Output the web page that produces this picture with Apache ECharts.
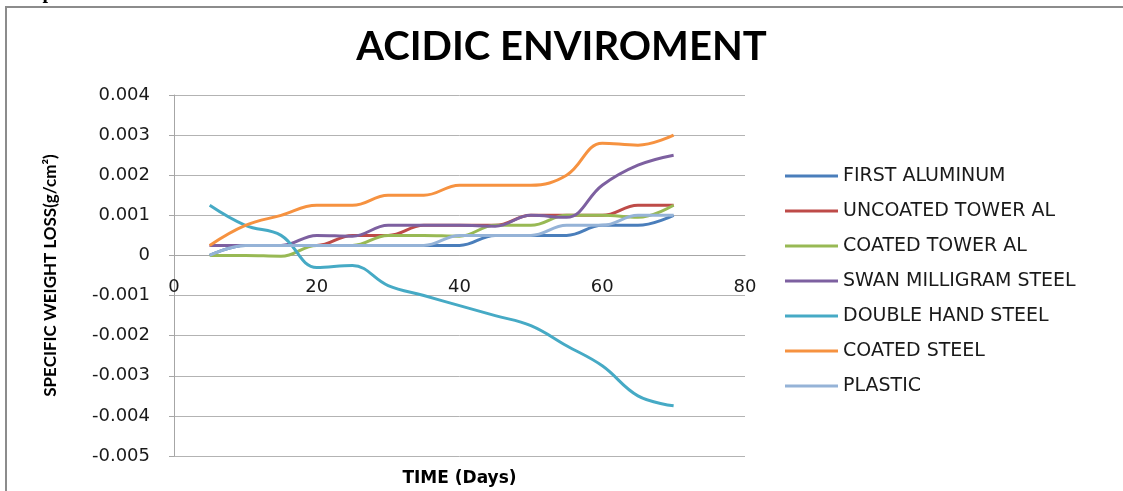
<!DOCTYPE html>
<html>
<head>
<meta charset="utf-8">
<script src="https://cdn.jsdelivr.net/npm/echarts@6/dist/echarts.min.js"></script>
<style>
html,body{margin:0;padding:0;background:#fff;}
#chart{width:1123px;height:491px;}
</style>
</head>
<body>
<div id="chart"></div>
<script>
const days = [5, 10, 15, 20, 25, 30, 35, 40, 45, 50, 55, 60, 65, 70];
const seriesNames = ['FIRST ALUMINUM', 'UNCOATED TOWER AL', 'COATED TOWER AL', 'SWAN MILLIGRAM STEEL', 'DOUBLE HAND STEEL', 'COATED STEEL', 'PLASTIC'];
const firstAluminum = [0, 0.00025, 0.00025, 0.00025, 0.00025, 0.00025, 0.00025, 0.00025, 0.0005, 0.0005, 0.0005, 0.00075, 0.00075, 0.001];
const uncoatedTowerAl = [0.00025, 0.00025, 0.00025, 0.00025, 0.0005, 0.0005, 0.00075, 0.00075, 0.00075, 0.001, 0.001, 0.001, 0.00125, 0.00125];
const coatedTowerAl = [0, 0, -0.00002, 0.00025, 0.00025, 0.0005, 0.0005, 0.00048, 0.00075, 0.00075, 0.001, 0.001, 0.00095, 0.00125];
const swanMilligramSteel = [0.00025, 0.00025, 0.00025, 0.0005, 0.00048, 0.00075, 0.00075, 0.00075, 0.00073, 0.001, 0.00095, 0.00175, 0.00225, 0.0025];
const doubleHandSteel = [0.00125, 0.00075, 0.0005, -0.0003, -0.00025, -0.00075, -0.001, -0.00125, -0.0015, -0.00175, -0.00225, -0.00275, -0.0035, -0.00375];
const coatedSteel = [0.00025, 0.00075, 0.001, 0.00125, 0.00125, 0.0015, 0.0015, 0.00175, 0.00175, 0.00175, 0.002, 0.0028, 0.00275, 0.003];
const plastic = [0, 0.00025, 0.00025, 0.00025, 0.00025, 0.00025, 0.00025, 0.0005, 0.0005, 0.0005, 0.00075, 0.00075, 0.001, 0.001];
const xTicks = {min: 0, max: 80, interval: 20};
const yTicks = {min: -0.005, max: 0.004, interval: 0.001};

const allValues = [firstAluminum, uncoatedTowerAl, coatedTowerAl, swanMilligramSteel, doubleHandSteel, coatedSteel, plastic];
const colors = ['#4A7EBB', '#BE4B48', '#98B954', '#7D60A0', '#46AAC5', '#F69240', '#95B3D7'];
const boldFont = 'Lato, "Open Sans", sans-serif';
const labelFont = '"DejaVu Sans", sans-serif';

const W = 1123, H = 491;
const gridBox = {left: 174, right: 378, top: 95, bottom: 35};
const plotH = H - gridBox.top - gridBox.bottom;
// move the x axis up from the bottom edge to the y = 0 line
const zeroOffset = -((0 - yTicks.min) / (yTicks.max - yTicks.min)) * plotH;

const chart = echarts.init(document.getElementById('chart'));
chart.setOption({
  animation: false,
  backgroundColor: '#fff',
  color: colors,
  title: {
    text: 'ACIDIC ENVIROMENT',
    left: 'center',
    top: 22,
    textStyle: {fontFamily: boldFont, fontWeight: 'bold', fontSize: 40, color: '#000'}
  },
  graphic: [
    {type: 'rect', shape: {x: 6, y: 7, width: 1140, height: 520}, style: {fill: 'none', stroke: '#8c8c8c', lineWidth: 2}, silent: true},
    {type: 'text', left: 8, top: -17, style: {text: 'Graphs', font: 'bold 20px "Liberation Serif", serif', fill: '#000'}, silent: true}
  ],
  legend: {
    orient: 'vertical',
    left: 780,
    top: 161,
    itemWidth: 53,
    itemHeight: 3,
    itemGap: 15,
    icon: 'rect',
    textStyle: {fontFamily: labelFont, fontSize: 19, color: '#1a1a1a', lineHeight: 20},
    data: seriesNames
  },
  grid: Object.assign({containLabel: false, outerBoundsMode: 'none'}, gridBox),
  xAxis: {
    type: 'value',
    position: 'bottom',
    offset: zeroOffset,
    min: xTicks.min, max: xTicks.max, interval: xTicks.interval,
    name: 'TIME (Days)',
    nameLocation: 'middle',
    nameGap: 215,
    nameTextStyle: {fontFamily: labelFont, fontWeight: 'bold', fontSize: 17, color: '#000'},
    axisLine: {onZero: false, lineStyle: {color: '#a6a6a6', width: 1}},
    axisTick: {show: false},
    axisLabel: {fontFamily: labelFont, fontSize: 18, color: '#1a1a1a', margin: 23},
    splitLine: {show: false}
  },
  yAxis: {
    type: 'value',
    min: yTicks.min, max: yTicks.max, interval: yTicks.interval,
    name: 'SPECIFIC WEIGHT LOSS(g/cm²)',
    nameLocation: 'middle',
    nameGap: 115,
    nameRotate: 90,
    nameTextStyle: {fontFamily: boldFont, fontWeight: 'bold', fontSize: 17, color: '#000'},
    axisLine: {show: true, onZero: false, lineStyle: {color: '#a6a6a6', width: 1}},
    axisTick: {show: true, length: 5, inside: false, lineStyle: {color: '#a6a6a6'}},
    axisLabel: {
      fontFamily: labelFont, fontSize: 18, color: '#1a1a1a', margin: 24,
      formatter: v => (Math.abs(v) < 1e-12 ? '0' : v.toFixed(3))
    },
    splitLine: {show: true, lineStyle: {color: '#b3b3b3', width: 1}}
  },
  series: seriesNames.map((n, i) => ({
    name: n,
    type: 'line',
    smooth: 0.4,
    symbol: 'none',
    lineStyle: {width: 3, color: colors[i]},
    itemStyle: {color: colors[i]},
    data: days.map((d, k) => [d, allValues[i][k]])
  }))
});
</script>
</body>
</html>
